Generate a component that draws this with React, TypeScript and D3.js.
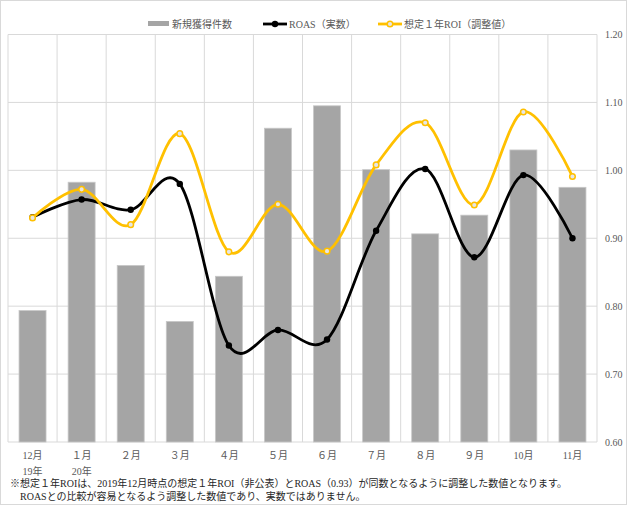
import React from "react";
import * as d3 from "d3";

const months = ["12月", "１月", "２月", "３月", "４月", "５月", "６月", "７月", "８月", "９月", "10月", "11月"];
const yearLabels = ["19年", "20年", "", "", "", "", "", "", "", "", "", ""];
const newAcquisitions = [387, 765, 520, 355, 488, 924, 990, 802, 613, 668, 860, 750];
const roasActual = [0.931, 0.957, 0.942, 0.98, 0.742, 0.765, 0.751, 0.911, 1.002, 0.872, 0.993, 0.9];
const roiAdjusted = [0.93, 0.972, 0.92, 1.054, 0.88, 0.95, 0.881, 1.008, 1.07, 0.949, 1.086, 0.991];
const rightTicks = [0.6, 0.7, 0.8, 0.9, 1.0, 1.1, 1.2];
const legendLabels = ["新規獲得件数", "ROAS（実数）", "想定１年ROI（調整値）"];
const footnotes = [
  "※想定１年ROIは、2019年12月時点の想定１年ROI（非公表）とROAS（0.93）が同数となるように調整した数値となります。",
  "　ROASとの比較が容易となるよう調整した数値であり、実数ではありません。",
];

const W = 627;
const H = 505;
const left = 8;
const right = 597;
const top = 34.5;
const bottom = 442;
const font = "'Liberation Serif', 'Noto Sans CJK JP', serif";
const textColor = "#595959";
const yellow = "#FFC000";

export default function App() {
  const x = d3.scaleBand<string>().domain(months).range([left, right]).padding(0);
  const yR = d3.scaleLinear().domain([0.6, 1.2]).range([bottom, top]);
  const yL = d3.scaleLinear().domain([0, 1200]).range([bottom, top]);
  const bw = x.bandwidth();
  const barW = bw * 0.55;
  const cx = (m: string) => (x(m) as number) + bw / 2;

  const line = d3
    .line<number>()
    .x((_, i) => cx(months[i]))
    .y((v) => yR(v))
    .curve(d3.curveCardinal.tension(0));

  const boundaries = months.map((m) => x(m) as number).concat([right]);

  return (
    <div style={{ position: "fixed", left: 0, top: 0 }}>
      <svg width={W} height={H} style={{ display: "block", fontFamily: font }}>
        <rect x={0.5} y={0.5} width={W - 1} height={H - 1} fill="#fff" stroke="#d9d9d9" />
        {rightTicks.map((t) => (
          <line key={"h" + t} x1={left} x2={right} y1={yR(t)} y2={yR(t)} stroke="#d9d9d9" strokeWidth={1} />
        ))}
        {boundaries.map((b, i) => (
          <line key={"v" + i} x1={b} x2={b} y1={top} y2={bottom} stroke="#d9d9d9" strokeWidth={1} />
        ))}
        {newAcquisitions.map((v, i) => (
          <rect
            key={"b" + i}
            x={cx(months[i]) - barW / 2}
            y={yL(v)}
            width={barW}
            height={bottom - yL(v)}
            fill="#a5a5a5"
            stroke="#c8c8c8"
            strokeWidth={0.8}
          />
        ))}
        <path d={line(roasActual) || ""} fill="none" stroke="#000" strokeWidth={2.8} />
        {roasActual.map((v, i) => (
          <circle key={"r" + i} cx={cx(months[i])} cy={yR(v)} r={3.2} fill="#000" />
        ))}
        <path d={line(roiAdjusted) || ""} fill="none" stroke={yellow} strokeWidth={2.8} />
        {roiAdjusted.map((v, i) => (
          <circle key={"y" + i} cx={cx(months[i])} cy={yR(v)} r={2.8} fill="#e6e6e6" stroke={yellow} strokeWidth={1.5} />
        ))}
        {rightTicks.map((t) => (
          <text key={"t" + t} x={605} y={yR(t)} dy="0.35em" fontSize={10} fill={textColor}>
            {t.toFixed(2)}
          </text>
        ))}
        {months.map((m, i) => (
          <text key={"m" + i} x={cx(m)} y={459} textAnchor="middle" fontSize={10} fill={textColor}>
            {m}
          </text>
        ))}
        {yearLabels.map((yl, i) =>
          yl ? (
            <text key={"yl" + i} x={cx(months[i])} y={475} textAnchor="middle" fontSize={10} fill={textColor}>
              {yl}
            </text>
          ) : null
        )}
        {footnotes.map((f, i) => (
          <text key={"f" + i} x={10} y={487 + i * 13} fontSize={10} fill="#262626">
            {f}
          </text>
        ))}
        <g fontSize={10} fill={textColor}>
          <rect x={148} y={21} width={21} height={5} fill="#a5a5a5" />
          <text x={172} y={24} dy="0.35em">{legendLabels[0]}</text>
          <line x1={263} x2={287} y1={24} y2={24} stroke="#000" strokeWidth={2.8} />
          <circle cx={275} cy={24} r={3.2} fill="#000" />
          <text x={289} y={24} dy="0.35em">{legendLabels[1]}</text>
          <line x1={378} x2={402} y1={24} y2={24} stroke={yellow} strokeWidth={2.8} />
          <circle cx={390} cy={24} r={2.8} fill="#e6e6e6" stroke={yellow} strokeWidth={1.5} />
          <text x={404} y={24} dy="0.35em">{legendLabels[2]}</text>
        </g>
      </svg>
    </div>
  );
}
